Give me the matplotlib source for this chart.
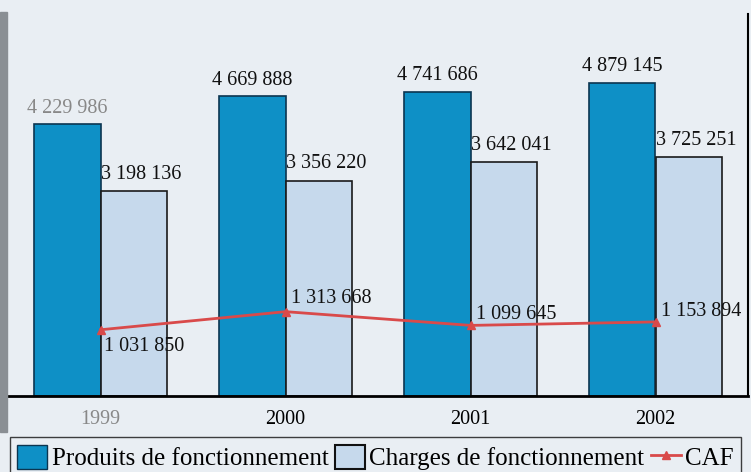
import matplotlib.pyplot as plt
import numpy as np
from matplotlib.patches import Patch
from matplotlib.lines import Line2D

annees = ['1999', '2000', '2001', '2002']
produits = [4229986, 4669888, 4741686, 4879145]
charges = [3198136, 3356220, 3642041, 3725251]
caf = [1031850, 1313668, 1099645, 1153894]


def fmt(v):
    return f"{v:,}".replace(",", " ")


plt.rcParams['font.family'] = ['Liberation Serif', 'DejaVu Serif']

bleu = '#0e90c6'
clair = '#c6d9ec'
rouge = '#d94a4a'
fond = '#e9eef3'

fig = plt.figure(figsize=(7.51, 4.72), dpi=100)
fig.patch.set_facecolor(fond)
ax = fig.add_axes([8 / 751, 1 - 396 / 472, 740 / 751, 382 / 472])
ax.set_facecolor(fond)

x = np.arange(len(annees))
w = 0.36
ax.bar(x - w / 2, produits, w, color=bleu, edgecolor='#0b3550', linewidth=1.2, zorder=2)
ax.bar(x + w / 2, charges, w, color=clair, edgecolor='#1a1a1a', linewidth=1.2, zorder=2)
ax.plot(x, caf, color=rouge, lw=2, marker='^', ms=6, zorder=3)

for i in range(len(annees)):
    c = '#888888' if i == 0 else '#111111'
    ax.text(x[i] - w / 2, produits[i] + 100000, fmt(produits[i]), ha='center', va='bottom',
            fontsize=14.5, color=c)
    ax.text(x[i] + 0.005, charges[i] + 110000, fmt(charges[i]), ha='left', va='bottom',
            fontsize=14.5, color='#111111')

caf_off = [(0.02, -110000, 'top'), (0.03, 60000, 'bottom'), (0.03, 20000, 'bottom'), (0.03, 20000, 'bottom')]
for i, (dx, dy, va) in enumerate(caf_off):
    ax.text(x[i] + dx, caf[i] + dy, fmt(caf[i]), ha='left', va=va, fontsize=14.5, color='#111111')

ax.set_xlim(-0.5, 3.5)
ax.set_ylim(0, 5950000)
ax.set_yticks([])
ax.set_xticks(x)
ax.set_xticklabels(annees, fontsize=14.5)
ax.get_xticklabels()[0].set_color('#888888')
ax.tick_params(axis='x', length=0, pad=10)
ax.spines['top'].set_visible(False)
ax.spines['left'].set_visible(False)
ax.spines['bottom'].set_linewidth(2)
ax.spines['right'].set_linewidth(1.5)

# bande grise du bord gauche (scan)
fig.patches.append(plt.Rectangle((0, 40 / 472), 7 / 751, 1 - 52 / 472, transform=fig.transFigure,
                                 color='#8a8f94', zorder=0))

handles = [Patch(facecolor=bleu, edgecolor='#0b3550'),
           Patch(facecolor=clair, edgecolor='#111111', linewidth=1.5),
           Line2D([], [], color=rouge, lw=2, marker='^', ms=6)]
labels = ['Produits de fonctionnement', 'Charges de fonctionnement', 'CAF']
leg = fig.legend(handles, labels, loc='lower center', bbox_to_anchor=(0.5, -0.012),
                 ncol=3, fontsize=18, frameon=True, fancybox=False,
                 edgecolor='#111111', handlelength=1.2, handleheight=1.1, handletextpad=0.18,
                 columnspacing=0.25, borderpad=0.3, borderaxespad=0)
leg.get_frame().set_facecolor(fond)

fig.savefig('out.png', dpi=100, facecolor=fond)
